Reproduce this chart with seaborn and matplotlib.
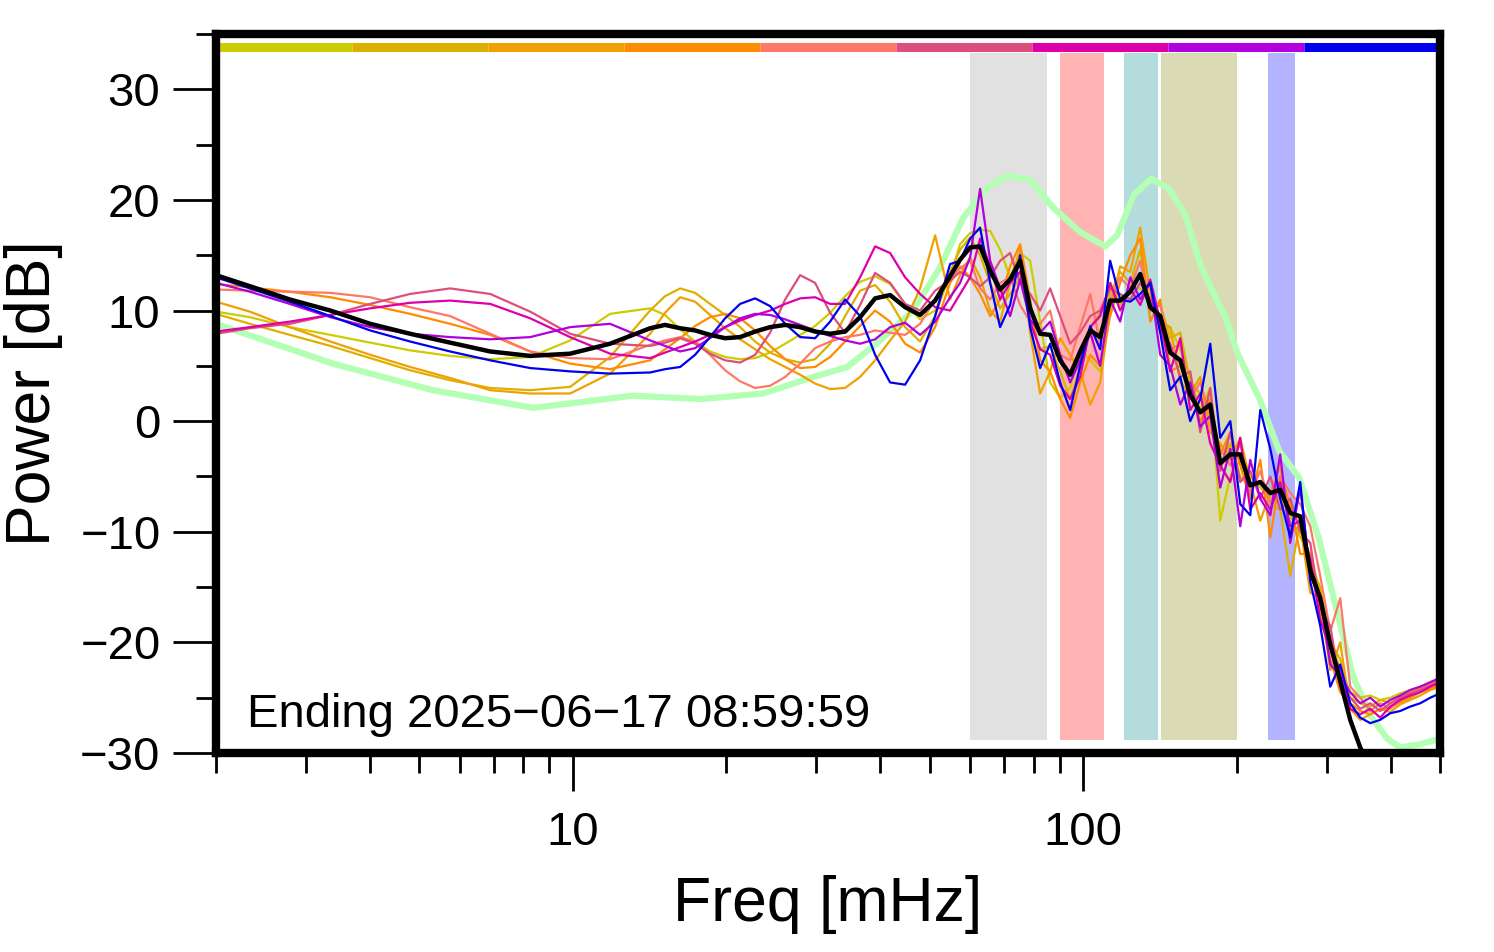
import numpy as np
import pandas as pd
import matplotlib
matplotlib.use('Agg')
import matplotlib.pyplot as plt
from matplotlib.ticker import FixedLocator, NullFormatter
import seaborn as sns

# frequency grid of the hourly spectra [mHz]
freq = [2.00, 2.33, 2.79, 3.35, 4.01, 4.80, 5.75, 6.89, 8.25, 9.88, 11.83,
        14.17, 15.16, 16.23, 17.36, 18.57, 19.88, 21.27, 22.76, 24.35, 26.06, 27.88,
        29.83, 31.92, 34.15, 36.54, 39.10, 41.84, 44.77, 47.90, 51.26, 54.84,
        57.37, 60.02, 62.79, 65.70, 68.72, 71.89, 75.22, 78.69, 82.32, 86.12,
        90.10, 94.26, 98.61, 103.2, 107.9,
        112.9, 118.1, 123.6, 129.3, 135.3, 141.5, 148.0, 154.9, 162.0, 169.5,
        177.3, 185.5, 194.1, 203.0, 212.4, 222.2, 232.5, 243.1, 254.4, 266.1,
        278.4, 291.2, 304.7, 318.7, 333.4,
        348.8, 364.9, 381.7, 399.4, 417.8, 437.1, 457.3, 478.4, 500.0]

# one spectrum per hour, colour of each hour
hours = ['00', '01', '02', '03', '04', '05', '06', '07', '08']
hour_colors = ['#cccc00', '#ddb000', '#f0a000', '#ff8c00', '#ff7766',
               '#dd4f7a', '#dd00aa', '#b000dd', '#0000ee']

spec_00 = [9.9, 9.4, 8.5, 7.8, 7.1, 6.4, 5.9, 5.6, 5.8, 7.3, 9.7,
           10.2, 9.6, 8.3, 7.2, 6.3, 5.8, 5.6, 5.7, 6.2, 7.0, 7.8, 8.6, 9.8, 11.3, 12.6, 13.1, 12.4, 10.6, 9.2, 10.0, 13.0,
           16.0, 17.0, 17.3, 17.2, 15.5, 13.0, 15.2, 14.5, 9.0, 3.5, 2.1, 3.0, 6.5, 5.5, 4.5,
           12.5, 10.5, 12.0, 12.0, 11.0, 8.0, 8.5, 6.5, 4.0, 1.0, 3.0, -9.0, -5.0, -3.5, -5.0, -6.0, -7.0, -7.0, -8.5, -10.5,
           -12.0, -15.5, -19.5, -22.5, -24.5,
           -25.0, -24.8, -25.2, -25.0, -24.6, -24.3, -24.0, -23.6, -23.2]
spec_01 = [9.7, 8.8, 7.8, 6.8, 5.7, 4.6, 3.7, 3.0, 2.8, 3.1, 5.8,
           10.0, 11.3, 12.0, 11.6, 10.6, 9.6, 8.5, 7.2, 6.2, 5.6, 5.3, 5.6, 7.0, 9.5, 11.8, 12.3, 10.8, 8.5, 7.2, 9.5, 13.5,
           15.5, 16.6, 15.0, 12.5, 10.2, 11.5, 13.0, 9.0, 6.5, 6.8, 4.5, 2.0, 4.8, 8.5, 9.8,
           11.5, 13.5, 12.5, 15.5, 10.0, 10.5, 7.5, 8.0, 3.5, 2.5, 0.5, -4.0, -2.0, -5.0, -6.0, -5.5, -7.5, -8.0, -14.0, -9.0,
           -13.0, -15.0, -20.0, -21.5, -25.0,
           -25.5, -25.8, -25.2, -25.5, -25.0, -24.5, -24.1, -23.8, -23.4]
spec_02 = [10.8, 9.9, 8.5, 7.2, 6.0, 4.9, 3.9, 2.8, 2.5, 2.5, 4.3,
           7.9, 9.8, 11.2, 10.8, 9.6, 8.4, 7.4, 6.5, 5.6, 4.9, 4.2, 3.4, 2.9, 3.0, 4.0, 5.5, 7.3, 9.0, 12.0, 16.8, 11.0,
           13.2, 14.8, 13.0, 10.0, 9.0, 12.5, 15.6, 8.0, 2.5, 4.5, 7.5, 6.0, 4.5, 1.5, 3.5,
           10.0, 14.0, 13.5, 17.5, 11.5, 9.0, 8.5, 3.5, 2.5, 4.0, -1.0, -2.0, -3.5, -1.5, -5.5, -9.0, -6.5, -4.0, -10.0, -9.5,
           -15.5, -16.0, -22.5, -20.0, -26.0,
           -27.0, -26.5, -26.0, -26.3, -25.6, -25.2, -24.8, -24.3, -24.0]
spec_03 = [12.4, 12.1, 11.7, 11.2, 10.5, 9.7, 8.8, 7.8, 6.3, 5.2, 4.7,
           5.5, 6.5, 7.5, 8.6, 9.4, 9.7, 9.3, 8.2, 6.8, 5.6, 4.8, 4.9, 5.8, 7.2, 8.6, 10.0, 9.0, 7.0, 6.2, 8.5, 12.5,
           14.0, 13.0, 11.5, 9.5, 11.0, 14.0, 16.0, 11.0, 5.5, 4.5, 2.0, 0.3, 3.5, 6.0, 5.0,
           9.5, 12.5, 15.0, 16.5, 9.0, 11.0, 4.5, 5.0, 3.0, 0.0, 2.0, -3.0, -1.0, -4.0, -7.0, -3.5, -10.5, -5.0, -7.5, -12.0,
           -12.0, -17.5, -21.5, -24.5, -25.5,
           -26.2, -26.5, -26.0, -25.9, -25.4, -25.0, -24.5, -24.2, -23.8]
spec_04 = [11.9, 11.8, 11.7, 11.6, 11.2, 10.3, 9.5, 7.9, 6.3, 5.7, 5.6,
           6.9, 7.3, 7.6, 7.2, 6.0, 4.6, 3.6, 3.0, 3.2, 4.0, 5.2, 6.6, 7.2, 7.6, 7.8, 8.2, 8.0, 7.8, 8.8, 11.0, 13.0,
           13.8, 14.5, 12.0, 11.0, 12.5, 13.0, 10.5, 9.0, 8.8, 10.0, 6.0, 5.5, 8.5, 11.5, 7.0,
           11.0, 13.0, 12.0, 14.5, 10.0, 10.5, 6.5, 7.0, 2.0, 3.5, 0.5, -2.5, -4.0, -2.0, -6.5, -4.5, -7.5, -5.0, -6.5, -7.5,
           -9.5, -14.0, -19.0, -16.0, -24.0,
           -25.0, -26.2, -25.5, -26.0, -25.2, -24.7, -24.2, -23.8, -23.4]
spec_05 = [7.9, 8.4, 8.8, 9.6, 10.6, 11.5, 12.0, 11.5, 9.9, 7.9, 7.0,
           6.8, 7.1, 7.5, 7.0, 6.1, 5.5, 5.3, 6.0, 8.0, 11.0, 13.2, 12.5, 9.8, 8.0, 10.5, 13.4, 12.5, 10.6, 10.0, 11.8, 12.7,
           13.5, 13.0, 12.2, 13.0, 14.5, 15.2, 12.5, 11.5, 10.0, 12.0, 9.5, 7.0, 8.0, 9.5, 10.0,
           12.0, 11.5, 11.0, 12.5, 11.0, 8.5, 7.0, 4.0, 4.5, -1.0, 3.0, -4.5, -1.0, -5.5, -4.5, -7.0, -5.0, -8.0, -7.0, -10.0,
           -11.0, -17.0, -18.5, -24.0, -25.0,
           -26.0, -25.5, -26.2, -25.5, -25.0, -24.6, -24.3, -23.9, -23.5]
spec_06 = [8.1, 8.5, 9.0, 9.6, 10.2, 10.7, 10.9, 10.6, 9.3, 7.6, 6.1,
           5.7, 6.2, 6.7, 7.2, 7.8, 8.5, 9.1, 9.6, 10.0, 10.6, 11.1, 11.2, 10.6, 10.6, 13.0, 15.8, 15.2, 13.0, 11.5, 10.3, 10.0,
           11.5, 13.0, 16.5, 14.0, 11.0, 12.5, 13.5, 9.0, 6.5, 6.0, 3.2, 2.0, 4.0, 8.5, 9.5,
           12.5, 10.0, 12.0, 10.5, 12.8, 9.0, 4.5, 7.5, 1.0, 2.5, -2.0, -4.0, -5.5, -1.5, -8.0, -6.5, -8.0, -5.5, -9.5, -9.0,
           -12.5, -18.0, -20.5, -22.5, -26.0,
           -26.5, -26.0, -26.8, -25.8, -25.2, -24.8, -24.5, -24.0, -23.6]
spec_07 = [12.5, 11.7, 10.6, 9.4, 8.5, 7.9, 7.6, 7.4, 7.6, 8.5, 8.8,
           7.3, 6.8, 6.3, 6.6, 7.5, 8.5, 9.3, 9.7, 9.6, 9.2, 8.7, 8.2, 7.7, 7.3, 7.0, 7.4, 8.5, 8.9, 7.8, 9.0, 11.2,
           12.5, 14.8, 21.0, 14.5, 12.0, 9.5, 12.8, 9.2, 8.0, 9.0, 6.0, 3.5, 5.5, 8.0, 5.0,
           11.0, 9.0, 13.0, 11.0, 12.5, 6.0, 5.0, 1.5, 3.5, -0.5, 0.5, -6.0, -2.5, -9.5, -3.5, -7.0, -8.5, -3.0, -11.0, -6.0,
           -14.0, -16.0, -22.0, -23.0, -24.5,
           -25.5, -25.0, -25.8, -25.2, -24.8, -24.3, -24.0, -23.6, -23.2]
spec_08 = [13.0, 12.0, 10.8, 9.5, 8.2, 7.2, 6.3, 5.5, 4.8, 4.5, 4.3,
           4.4, 4.7, 4.9, 6.0, 7.6, 9.3, 10.6, 11.1, 10.4, 8.8, 7.6, 7.5, 9.0, 11.0, 9.5, 6.0, 3.5, 3.3, 5.5, 9.5, 14.2,
           14.5, 16.5, 17.5, 12.5, 8.5, 10.5, 15.0, 8.5, 4.8, 7.0, 3.5, 1.0, 5.0, 8.6, 6.5,
           14.5, 11.0, 10.8, 11.5, 12.5, 8.0, 2.8, 4.0, 0.0, 2.0, 7.0, -1.5, 0.0, -7.5, -8.5, 1.0, -2.5, -7.0, -10.5, -5.5,
           -14.5, -18.5, -24.0, -22.0, -25.5,
           -26.8, -27.3, -27.0, -26.4, -26.2, -25.8, -25.5, -25.0, -24.6]

# average spectrum (black)
mean_spec = [13.2, 12.2, 11.0, 10.0, 8.8, 7.9, 7.1, 6.3, 5.9, 6.1, 7.0,
             8.4, 8.7, 8.4, 8.2, 7.8, 7.5, 7.6, 8.1, 8.5, 8.7, 8.5, 8.1, 7.9, 8.1, 9.4, 11.1, 11.4, 10.3, 9.6, 10.9, 13.1,
             14.6, 15.7, 15.8, 13.6, 11.9, 12.8, 14.5, 10.2, 7.9, 7.8, 5.5, 4.2, 6.3, 8.2, 7.6,
             10.9, 10.9, 11.7, 13.3, 10.3, 9.5, 6.2, 5.5, 2.4, 0.8, 1.5, -3.8, -3.0, -3.0, -5.8, -5.5, -6.5, -6.2, -8.3, -8.6,
             -13.5, -16.0, -20.2, -23.5, -27.0,
             -29.5, -31.5, np.nan, np.nan, np.nan, np.nan, np.nan, np.nan, np.nan]

# reference spectrum (light green)
ref_freq = [2.0, 3.39, 5.32, 8.36, 13.1, 17.8, 23.6, 29.6, 34.5, 40.0, 46.4, 52.4,
            58.2, 64.8, 70.9, 78.7, 87.3, 98.6, 110.4, 116.5, 125.8, 135.8, 146.6,
            158.3, 170.2, 189.7, 201.1, 221.1, 242.0, 264.8, 289.8, 317.1, 337.9,
            364.8, 393.8, 417.6, 457.0, 500.0]
ref_spec = [8.8, 5.2, 2.8, 1.2, 2.3, 2.0, 2.5, 4.0, 4.9, 7.3, 10.0, 13.9,
            18.4, 21.1, 22.2, 21.8, 19.3, 17.1, 15.8, 16.8, 20.5, 21.9, 21.1,
            18.7, 13.9, 9.4, 6.0, 2.1, -2.7, -5.1, -10.7, -18.0, -23.1,
            -26.6, -28.7, -29.5, -29.2, -28.7]

# shaded frequency bands [mHz]
band_lo = [60, 90, 120, 142, 230]
band_hi = [85, 110, 140, 200, 260]
band_colors = ['#e1e1e1', '#ffb3b3', '#b5dcdd', '#dadbb5', '#b3b3ff']

spectra = [spec_00, spec_01, spec_02, spec_03, spec_04,
           spec_05, spec_06, spec_07, spec_08]
frames = []
for h, s in zip(hours, spectra):
    frames.append(pd.DataFrame({'freq': freq, 'power': s, 'hour': h}))
df = pd.concat(frames, ignore_index=True)

sns.set_style('ticks', {'axes.edgecolor': 'black', 'text.color': 'black',
                        'xtick.color': 'black', 'ytick.color': 'black',
                        'axes.labelcolor': 'black'})
plt.rcParams['font.family'] = ['Liberation Sans', 'DejaVu Sans']

fig = plt.figure(figsize=(14.94, 9.52), dpi=100)
ax = fig.add_axes([0.1446, 0.209, 0.8193, 0.7553])
ax.set_xscale('log')

for lo, hi, c in zip(band_lo, band_hi, band_colors):
    ax.fill_between([lo, hi], -28.8, 33.3, color=c, lw=0, zorder=0.5)

sns.lineplot(x=ref_freq, y=ref_spec, color='#b3ffb3', lw=4.5, ax=ax, zorder=2)
sns.lineplot(data=df, x='freq', y='power', hue='hour', hue_order=hours,
             palette=hour_colors, lw=1.6, estimator=None, legend=False,
             ax=ax, zorder=3)
sns.lineplot(x=freq, y=mean_spec, color='black', lw=3.2, ax=ax, zorder=4)

# colour key strip along the top
edges = np.geomspace(2, 500, len(hours) + 1)
ax.hlines([33.8] * len(hours), edges[:-1], edges[1:], colors=hour_colors,
          lw=6.5, zorder=5)

ax.text(0.0253, 0.036, 'Ending 2025\u221206\u221217 08:59:59', transform=ax.transAxes,
        fontsize=34, color='black', ha='left', va='baseline', zorder=6)

ax.set_xlim(2, 500)
ax.set_ylim(-30, 35)
ax.xaxis.set_major_locator(FixedLocator([10, 100]))
ax.xaxis.set_minor_locator(FixedLocator([2, 3, 4, 5, 6, 7, 8, 9,
                                         20, 30, 40, 50, 60, 70, 80, 90,
                                         200, 300, 400, 500]))
ax.xaxis.set_minor_formatter(NullFormatter())
ax.set_xticklabels(['10', '100'])
ax.yaxis.set_major_locator(FixedLocator([-30, -20, -10, 0, 10, 20, 30]))
ax.yaxis.set_minor_locator(FixedLocator([-25, -15, -5, 5, 15, 25, 35]))

ax.tick_params(axis='y', which='major', length=31, width=2, labelsize=34, pad=9,
               color='black', labelcolor='black')
ax.tick_params(axis='y', which='minor', length=14.5, width=2, color='black')
ax.tick_params(axis='x', which='major', length=27, width=2, labelsize=34, pad=15,
               color='black', labelcolor='black')
ax.tick_params(axis='x', which='minor', length=14.5, width=2, color='black')

for sp in ax.spines.values():
    sp.set_linewidth(6)
    sp.set_color('black')
    sp.set_zorder(7)

ax.set_xlabel('Freq [mHz]', fontsize=45, labelpad=14, color='black')
ax.set_ylabel('Power [dB]', fontsize=45, labelpad=12, color='black')

fig.savefig('out.png', dpi=100)
